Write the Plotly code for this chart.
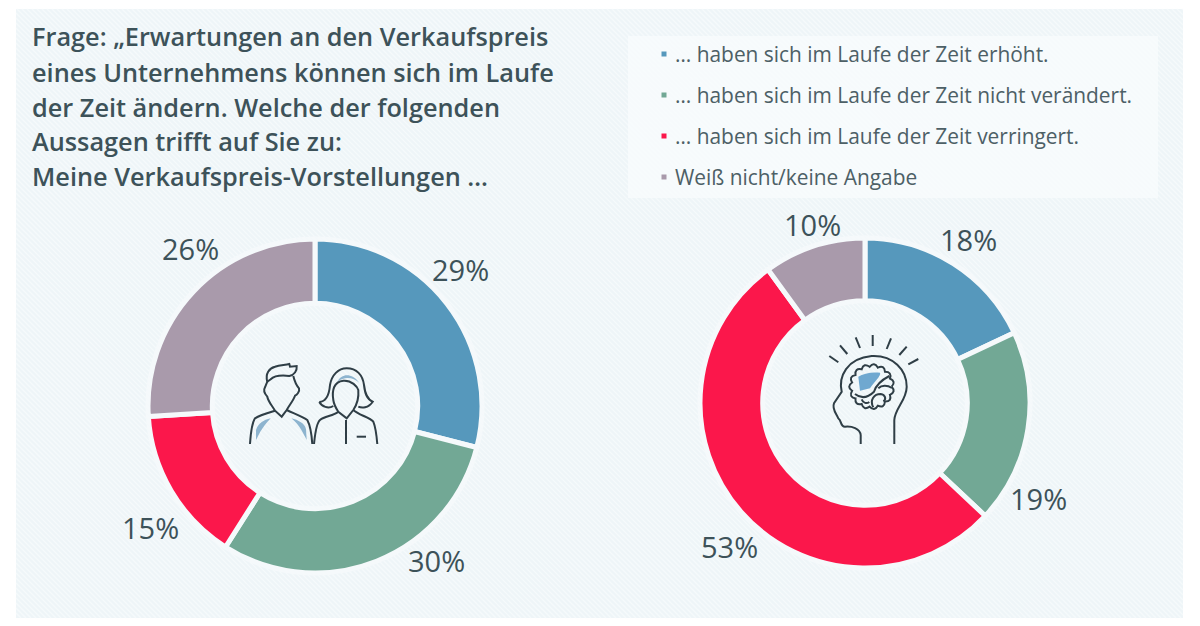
import re
import math
import plotly.graph_objects as go

categories = ["… haben sich im Laufe der Zeit erhöht.",
              "… haben sich im Laufe der Zeit nicht verändert.",
              "… haben sich im Laufe der Zeit verringert.",
              "Weiß nicht/keine Angabe"]
colors = ["#5698bc", "#72a895", "#fb174b", "#a99aab"]
values_left = [29, 30, 15, 26]
values_right = [18, 19, 53, 10]
title_lines = ["Frage: „Erwartungen an den Verkaufspreis",
               "eines Unternehmens können sich im Laufe",
               "der Zeit ändern. Welche der folgenden",
               "Aussagen trifft auf Sie zu:",
               "Meine Verkaufspreis-Vorstellungen …"]
title_y = [36, 72, 107, 141, 176]
legend_y = [54, 95, 136, 177]
label_pos_left = [(460, 269), (436, 560), (150, 527), (190, 248)]
label_pos_right = [(968, 239), (1038, 498), (729, 546), (812, 224)]

W, H = 1200, 626
FONT = "Open Sans"
INK = "#3d5259"
LEG = "#4d6066"


def pie(vals, cx, cy, r, hole):
    return go.Pie(values=vals, labels=categories, sort=False, direction="clockwise", rotation=0,
                  hole=hole, marker=dict(colors=colors, line=dict(color="#f5f9fb", width=5)),
                  domain=dict(x=[(cx - r) / W, (cx + r) / W], y=[1 - (cy + r) / H, 1 - (cy - r) / H]),
                  textinfo="none", showlegend=False, hoverinfo="label+percent")


def P(ox, oy, d, s=1 / 3):
    """Scale an icon path written in 3x crop coordinates to page pixels."""
    n = [0]
    def rep(m):
        v = float(m.group())
        o = ox if n[0] % 2 == 0 else oy
        n[0] += 1
        return f"{o + v * s:.1f}"
    return re.sub(r"-?\d+\.?\d*", rep, d)


fig = go.Figure([pie(values_left, 315, 406, 167, 0.615), pie(values_right, 865, 403, 165, 0.62)])

shapes = [dict(type="rect", xref="x", yref="y", x0=16, x1=1183, y0=9, y1=618,
               fillcolor="#eef5f8", line_width=0, layer="below")]
# diagonal hatching of the panel
hp = []
for c in range(16 - 618, 1183, 5):
    x0 = max(c + 9, 16)
    y0 = x0 - c
    y1 = min(618, 1183 - c)
    x1 = y1 + c
    if y1 > y0:
        hp.append(f"M{x0} {y0}L{x1} {y1}")
shapes.append(dict(type="path", xref="x", yref="y", path="".join(hp),
                   line=dict(color="#f6fafb", width=1.2), layer="below"))
shapes.append(dict(type="rect", xref="x", yref="y", x0=628, x1=1158, y0=36, y1=198,
                   fillcolor="rgba(249,252,253,0.7)", line_width=0, layer="below"))

# legend swatches
for c, y in zip(colors, legend_y):
    shapes.append(dict(type="rect", xref="x", yref="y", x0=661.5, x1=666.5, y0=y - 2.5, y1=y + 2.5,
                       fillcolor=c, line_width=0, layer="below"))

ICON = "#2f3e46"
people_stroke = [
    "M112 125 C105 100 118 85 135 80 C150 74 165 76 178 72 L180 80 L200 78 C202 92 192 106 178 108 C160 106 135 105 122 118 L112 125",
    "M190 108 C194 125 198 135 207 145 C210 155 200 165 195 167 C190 182 178 195 170 210 L155 230 L135 212 C125 195 115 185 112 170 C103 160 100 150 105 142 L112 125",
    "M60 312 C62 280 65 250 75 235 C90 225 115 218 135 212",
    "M170 210 C190 220 215 228 232 240 C240 255 245 285 247 312",
    "M268 186 C285 185 297 170 300 135 C305 105 325 85 350 85 C380 85 398 105 402 135 C405 160 410 178 428 185 C415 205 395 205 385 200",
    "M268 186 C275 200 295 207 310 198",
    "M310 180 C305 150 312 125 340 122 C365 120 382 140 385 150 C387 175 380 195 370 210 L350 235 L325 215 C318 205 312 195 310 180",
    "M252 312 C255 285 258 250 270 240 C285 228 310 228 325 215",
    "M370 210 C385 225 420 232 430 245 C438 265 440 290 442 312",
    "M348 240 L348 312", "M380 290 L408 290",
]
people_fill = [
    "M122 235 C100 240 85 250 78 270 L78 300 C85 290 92 265 122 235 Z",
    "M184 235 C205 240 225 250 228 268 L230 300 C222 285 210 255 184 235 Z",
    "M322 125 C335 100 365 98 388 128 C370 112 345 108 322 125 Z",
]

# scalloped brain outline
scallop = []
N, bcx, bcy, br = 15, 185, 200, 60
for i in range(N):
    a0 = 2 * math.pi * i / N
    a1 = 2 * math.pi * (i + 1) / N
    am = (a0 + a1) / 2
    if i == 0:
        scallop.append(f"M {bcx + br * math.cos(a0):.1f} {bcy + br * math.sin(a0):.1f}")
    scallop.append(f"Q {bcx + (br + 16) * math.cos(am):.1f} {bcy + (br + 16) * math.sin(am):.1f} "
                   f"{bcx + br * math.cos(a1):.1f} {bcy + br * math.sin(a1):.1f}")
brain_outline = " ".join(scallop)

brain_stroke = [
    "M58 108 L85 127", "M90 76 L112 102", "M137 52 L150 84", "M188 45 L188 78",
    "M243 55 L230 87", "M290 80 L268 105", "M325 117 L295 133",
    "M152 372 L152 345 C150 325 125 318 105 320 C90 320 95 300 85 295 C78 280 65 265 72 250 L95 215 C85 170 110 115 185 108 C250 105 290 150 290 200 C290 240 255 265 253 300 L253 372",
    brain_outline,
    "M135 222 C155 238 175 232 192 215 C198 195 215 180 238 168",
    "M190 262 C178 240 192 222 212 222 C226 224 230 238 220 244",
    "M205 205 C215 195 232 195 246 204",
    "M155 238 C160 250 170 252 178 246",
]
brain_fill = ["M145 170 C160 160 185 155 210 158 C215 165 190 190 180 205 L150 212 Z"]
for d in people_stroke:
    shapes.append(dict(type="path", xref="x", yref="y", path=P(230, 340, d), line=dict(color=ICON, width=2)))
for d in people_fill:
    shapes.append(dict(type="path", xref="x", yref="y", path=P(230, 340, d), fillcolor="#8db4cf", line_width=0, layer="below"))
for d in brain_stroke:
    shapes.append(dict(type="path", xref="x", yref="y", path=P(810, 320, d), line=dict(color=ICON, width=2)))
for d in brain_fill:
    shapes.append(dict(type="path", xref="x", yref="y", path=P(810, 320, d), fillcolor="#6fa8d0", line_width=0, layer="below"))

ann = []
for t, y in zip(title_lines, title_y):
    ann.append(dict(xref="x", yref="y", x=30, y=y, text=t, showarrow=False, xanchor="left", yanchor="middle",
                    font=dict(family=FONT, size=25.3, color=INK, weight=600)))
for t, y in zip(categories, legend_y):
    ann.append(dict(xref="x", yref="y", x=673, y=y, text=t, showarrow=False, xanchor="left", yanchor="middle",
                    font=dict(family=FONT, size=20.9, color=LEG)))
for vals, pos in ((values_left, label_pos_left), (values_right, label_pos_right)):
    for v, (x, y) in zip(vals, pos):
        ann.append(dict(xref="x", yref="y", x=x, y=y, text=f"{v}%", showarrow=False,
                        font=dict(family=FONT, size=29, color=INK)))

fig.update_layout(width=W, height=H, margin=dict(l=0, r=0, t=0, b=0), paper_bgcolor="#ffffff",
                  plot_bgcolor="rgba(0,0,0,0)", shapes=shapes, annotations=ann,
                  xaxis=dict(range=[0, W], visible=False, fixedrange=True),
                  yaxis=dict(range=[H, 0], visible=False, fixedrange=True))
fig.write_html("out.html", config=dict(displayModeBar=False),
               post_script="document.body.style.margin='0';")
